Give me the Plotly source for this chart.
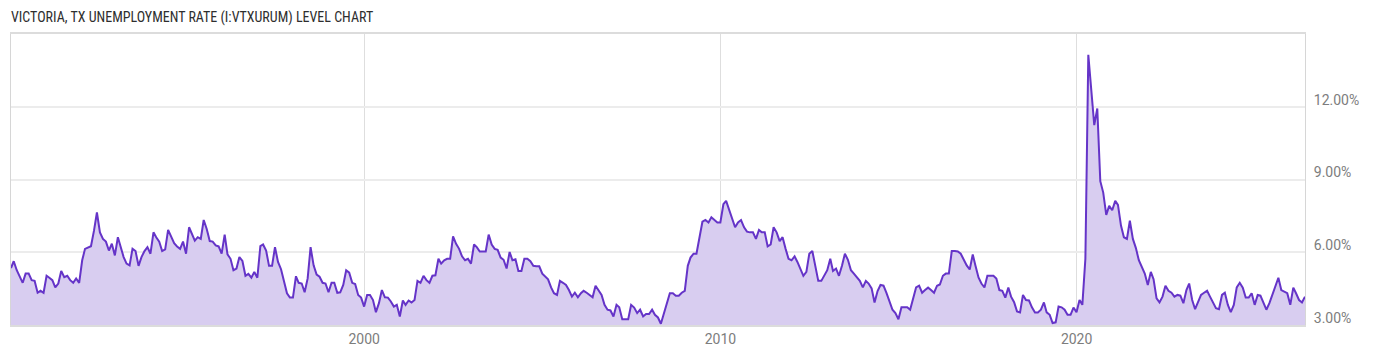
import pandas as pd
import plotly.graph_objects as go

title_text = "VICTORIA, TX UNEMPLOYMENT RATE (I:VTXURUM) LEVEL CHART"
start_month = "1990-01-31"

rate = [
    # 1990-01 .. 1996-02
    5.35, 5.63, 5.26, 4.99, 4.74, 5.12, 5.12, 4.85, 4.82, 4.33,
    4.41, 4.33, 5.03, 4.95, 4.85, 4.55, 4.71, 5.23, 4.97, 5.03,
    4.85, 4.74, 4.92, 4.74, 5.67, 6.14, 6.21, 6.25, 6.89, 7.64,
    6.82, 6.55, 6.44, 6.07, 6.35, 5.87, 6.62, 6.21, 5.80, 5.53,
    5.46, 6.14, 6.05, 5.44, 5.80, 6.05, 6.21, 5.94, 6.82, 6.62,
    6.44, 6.05, 6.12, 6.92, 6.62, 6.37, 6.24, 6.14, 6.44, 5.94,
    7.03, 6.76, 6.48, 6.62, 6.55, 7.33, 6.96, 6.46, 6.44, 6.28,
    6.24, 5.94, 6.73, 5.91,
    # 1996-03 ..
    5.73, 5.26, 5.33, 5.80, 5.64, 5.03, 5.11, 4.95, 5.19, 4.95,
    6.25, 6.32, 6.07, 5.44, 5.44, 6.21, 5.60, 5.30, 4.78, 4.31,
    4.13, 4.13, 5.01, 4.74, 4.71, 4.35, 4.92, 6.21, 5.46, 5.08,
    4.99, 4.74, 4.71, 4.35, 4.74, 4.74, 4.33, 4.35, 4.65, 5.26,
    5.16, 4.74, 4.69, 4.24, 4.13, 3.76, 4.24, 4.24, 4.03, 3.53,
    3.90, 4.44, 4.14, 4.13, 3.97, 3.76, 3.83, 3.35, 4.01, 3.83,
    4.01, 3.93, 4.03, 4.82, 4.74, 5.03, 4.85, 4.74, 5.03, 5.05,
    5.73, 5.53, 5.67,
    # 2002-04 ..
    5.73, 5.73, 6.65, 6.35, 6.14, 5.83, 5.67, 5.73, 5.53, 6.32,
    6.21, 6.03, 6.03, 6.03, 6.73, 6.32, 6.14, 6.10, 5.78, 5.69,
    5.33, 6.01, 5.67, 5.71, 5.23, 5.23, 5.73, 5.73, 5.63, 5.44,
    5.42, 5.42, 5.12, 4.99, 4.88, 4.55, 4.31, 4.24, 4.82, 4.74,
    4.65, 4.44, 4.17, 4.33, 4.14, 4.31, 4.41, 4.33, 4.24, 4.14,
    4.62, 4.44, 4.24, 3.83, 3.63, 3.60, 3.35, 3.83, 3.73, 3.24,
    3.24, 3.24, 3.83, 3.72, 3.49, 3.63, 3.35, 3.45, 3.45, 3.63,
    3.42, 3.31,
    # 2008-04 ..
    3.05, 3.49, 3.97, 4.31, 4.31, 4.21, 4.21, 4.33, 4.41, 5.44,
    5.78, 5.94, 5.94, 6.62, 7.26, 7.33, 7.23, 7.44, 7.34, 7.23,
    7.23, 7.98, 8.12, 7.78, 7.37, 7.03, 7.23, 7.33, 7.03, 6.85,
    6.82, 6.82, 6.55, 6.92, 6.82, 6.82, 6.24, 6.32, 7.03, 6.82,
    6.46, 6.62, 6.14, 5.73, 5.67, 5.83, 5.60, 5.33, 5.03, 5.19,
    5.94, 6.05, 5.46, 4.82, 4.82, 5.05, 5.26, 5.73, 5.23, 5.33,
    5.03, 5.44, 5.94, 5.69, 5.26, 5.12, 4.99, 4.82, 4.55, 4.82,
    4.71, 4.51, 3.93,
    # 2014-05 ..
    4.40, 4.65, 4.62, 4.31, 3.97, 3.63, 3.49, 3.24, 3.73, 3.73,
    3.73, 3.63, 4.10, 4.55, 4.62, 4.33, 4.44, 4.54, 4.44, 4.33,
    4.62, 4.67, 5.03, 5.12, 5.12, 6.05, 6.05, 6.03, 5.94, 5.69,
    5.46, 5.29, 5.91, 5.44, 4.96, 4.71, 4.55, 5.03, 5.03, 5.03,
    4.92, 4.44, 4.41, 4.13, 4.54, 4.17, 3.94, 3.56, 3.52, 4.24,
    4.03, 4.01, 3.73, 3.52, 3.52, 3.63, 3.93, 3.52,
    # 2019-03 ..
    3.42, 3.08, 3.11, 3.76, 3.73, 3.63, 3.42, 3.42, 3.72, 3.53,
    4.03, 3.83, 5.73, 14.14, 12.67, 11.24, 11.93, 8.93, 8.46, 7.54,
    7.91, 7.73, 8.12, 7.95, 7.10, 6.62, 6.55, 7.30, 6.55, 6.17,
    5.67, 5.39, 5.12, 4.65, 5.19, 4.89, 4.10, 3.93, 4.17, 4.62,
    4.41, 4.33, 4.17, 4.24, 4.21, 3.90, 4.44, 4.71, 4.03, 3.65,
    3.97, 4.24, 4.33, 4.41, 4.17, 3.90, 3.69, 3.65, 4.24, 4.33,
    3.83, 3.53, 3.83, 4.55, 4.74, 4.54, 4.13, 4.13, 4.31, 3.83,
    4.24, 4.21, 3.90, 3.63, 3.90, 4.24, 4.58, 4.95, 4.44, 4.37,
    4.31, 3.83, 4.54, 4.31, 4.03, 3.93, 4.17,
]

dates = pd.date_range(start_month, periods=len(rate), freq="ME")

x_tick_vals = ["2000-01-01", "2010-01-01", "2020-01-01"]
x_tick_text = ["2000", "2010", "2020"]
y_tick_vals = [3, 6, 9, 12]
y_tick_text = ["3.00%", "6.00%", "9.00%", "12.00%"]

fig = go.Figure()
fig.add_trace(go.Scatter(
    x=dates, y=rate, mode="lines",
    line=dict(color="#6534c8", width=2),
    fill="tozeroy", fillcolor="#d8cdf0",
    hoverinfo="x+y",
))

fig.update_layout(
    width=1400, height=357,
    margin=dict(l=10, r=95, t=34, b=30),
    paper_bgcolor="white", plot_bgcolor="white",
    showlegend=False,
    font=dict(family="Roboto, sans-serif", size=14, color="#7d7d7d"),
    annotations=[dict(
        text=title_text, xref="paper", yref="paper",
        x=0, y=1, xshift=-2, yshift=17, xanchor="left", yanchor="middle",
        showarrow=False,
        font=dict(family="Roboto Condensed, Liberation Sans Narrow, DejaVu Sans Condensed, sans-serif",
                  size=14, color="#2e2e2e"),
    )],
)

fig.update_xaxes(
    range=[dates[0], dates[-1]],
    tickvals=x_tick_vals, ticktext=x_tick_text,
    showgrid=True, gridcolor="#dedede", gridwidth=1,
    showline=True, linecolor="#dcdcdc", linewidth=2, mirror=True,
    ticks="", tickfont=dict(size=14, color="#7d7d7d"),
    zeroline=False,
)
fig.update_yaxes(
    range=[3, 15], side="right",
    tickvals=y_tick_vals, ticktext=y_tick_text,
    showgrid=True, gridcolor="#ececec", gridwidth=2,
    showline=True, linecolor="#d6d6d6", linewidth=1, mirror=True,
    ticks="", ticklabelposition="outside",
    ticklabelshift=-7, ticklabelstandoff=5,
    tickfont=dict(size=14, color="#7d7d7d"),
    zeroline=False,
)

fig.write_html("out.html")
